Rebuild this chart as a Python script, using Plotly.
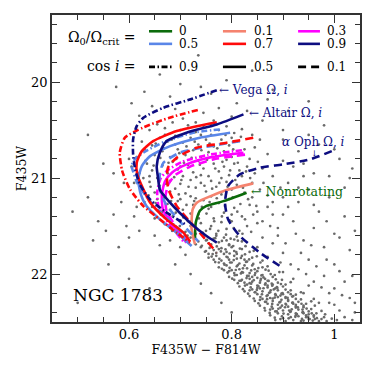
import plotly.graph_objects as go

# ---------------- data ----------------
# observed stars (F435W-F814W, F435W), estimated from the picture
stars = [
 (0.575,20.05),(0.63,20.1),(0.66,19.92),(0.70,20.02),(0.735,19.72),(0.76,20.12),(0.79,19.98),(0.81,20.22),(0.84,19.88),(0.88,20.08),
 (0.91,20.3),(0.95,20.2),(0.62,20.35),(0.69,20.28),(0.72,20.18),(0.745,20.32),(0.775,20.27),(0.80,20.36),(0.83,20.3),(0.86,20.4),
 (0.52,20.55),(0.605,20.22),(0.645,20.25),(0.98,20.45),(0.87,20.18),(0.73,20.42),(0.765,20.4),(0.705,20.38),(0.68,20.15),(0.74,20.05),
 (0.625,20.62),(0.64,20.5),(0.655,20.44),(0.67,20.48),(0.685,20.42),(0.70,20.5),(0.715,20.45),(0.73,20.52),(0.745,20.47),(0.76,20.44),
 (0.775,20.5),(0.79,20.46),(0.805,20.53),(0.82,20.49),(0.84,20.55),(0.855,20.6),(0.63,20.7),(0.645,20.66),(0.66,20.58),(0.675,20.62),
 (0.69,20.56),(0.705,20.63),(0.72,20.58),(0.735,20.65),(0.75,20.6),(0.765,20.67),(0.78,20.6),(0.795,20.66),(0.81,20.62),(0.825,20.7),
 (0.845,20.68),(0.87,20.75),(0.615,20.78),(0.65,20.76),(0.665,20.72),(0.68,20.78),(0.695,20.7),(0.71,20.76),(0.725,20.71),(0.74,20.78),
 (0.755,20.73),(0.77,20.77),(0.785,20.72),(0.80,20.78),(0.815,20.75),(0.835,20.8),(0.67,20.55),(0.74,20.55),(0.80,20.58),(0.69,20.65),
 (0.76,20.55),
 (0.605,20.88),(0.62,20.95),(0.635,20.85),(0.645,20.92),(0.655,21.0),(0.665,20.87),(0.675,20.95),(0.685,20.83),(0.695,20.91),(0.705,20.98),
 (0.715,20.86),(0.725,20.94),(0.735,20.82),(0.745,20.9),(0.755,20.98),(0.765,20.85),(0.775,20.93),(0.785,20.88),(0.795,20.97),(0.805,20.85),
 (0.815,20.92),(0.83,20.88),(0.845,20.95),(0.86,20.9),(0.88,20.98),(0.61,21.05),(0.625,21.12),(0.64,21.04),(0.65,21.15),(0.66,21.08),
 (0.67,21.18),(0.68,21.03),(0.69,21.11),(0.70,21.06),(0.71,21.16),(0.72,21.02),(0.73,21.1),(0.74,21.05),(0.75,21.14),(0.76,21.03),
 (0.77,21.09),(0.78,21.17),(0.79,21.04),(0.80,21.12),(0.81,21.07),(0.825,21.15),(0.84,21.05),(0.855,21.12),(0.87,21.18),(0.895,21.1),
 (0.66,20.96),(0.70,20.88),(0.74,20.97),(0.78,21.0),(0.82,20.98),(0.68,21.14),(0.72,21.19),(0.76,21.19),(0.64,20.98),(0.79,20.81),
 (0.63,21.25),(0.645,21.3),(0.655,21.22),(0.665,21.35),(0.675,21.27),(0.685,21.4),(0.695,21.24),(0.705,21.33),(0.715,21.45),(0.725,21.28),
 (0.735,21.38),(0.745,21.23),(0.755,21.32),(0.765,21.42),(0.775,21.26),(0.785,21.36),(0.795,21.22),(0.805,21.31),(0.82,21.4),(0.835,21.28),
 (0.85,21.35),(0.87,21.3),(0.9,21.38),(0.67,21.48),(0.69,21.52),(0.70,21.44),(0.71,21.56),(0.72,21.5),(0.73,21.58),(0.74,21.47),
 (0.75,21.55),(0.76,21.5),(0.77,21.58),(0.78,21.46),(0.79,21.53),(0.80,21.45),(0.815,21.55),(0.83,21.5),(0.85,21.47),(0.65,21.42),
 (0.68,21.33),(0.72,21.37),(0.76,21.3),(0.80,21.38),(0.84,21.2),(0.73,21.21),(0.70,21.22),
 (0.652,20.64),(0.668,20.69),(0.683,20.6),(0.698,20.74),(0.712,20.67),(0.728,20.62),(0.741,20.71),(0.757,20.64),(0.772,20.69),(0.788,20.55),
 (0.803,20.7),(0.818,20.57),(0.632,20.82),(0.648,20.87),(0.661,20.79),(0.677,20.84),(0.692,20.8),(0.707,20.84),(0.722,20.79),(0.738,20.86),
 (0.752,20.81),(0.768,20.9),(0.782,20.83),(0.797,20.92),(0.812,20.84),(0.828,20.93),(0.851,20.83),(0.628,21.0),(0.642,21.09),(0.658,21.03),
 (0.672,21.06),(0.688,20.99),(0.702,21.02),(0.716,21.09),(0.731,20.99),(0.747,21.08),(0.762,21.11),(0.776,21.05),(0.792,21.09),(0.807,21.02),
 (0.822,21.1),(0.836,21.0),(0.862,21.05),(0.638,21.18),(0.652,21.26),(0.667,21.21),(0.682,21.24),(0.697,21.17),(0.712,21.28),(0.727,21.24),
 (0.742,21.3),(0.757,21.25),(0.771,21.21),(0.787,21.29),(0.802,21.2),(0.817,21.27),(0.832,21.22),(0.848,21.29),(0.662,21.38),(0.676,21.43),
 (0.691,21.36),(0.706,21.41),(0.721,21.45),(0.736,21.42),(0.751,21.37),(0.766,21.45),(0.781,21.4),(0.796,21.44),(0.811,21.35),(0.826,21.43),
 (0.842,21.38),(0.684,21.55),(0.699,21.5),(0.714,21.6),(0.729,21.52),(0.744,21.57),(0.758,21.53),(0.774,21.55),(0.789,21.59),(0.804,21.52),
 (0.821,21.58),(0.838,21.56),
 (0.72,21.62),(0.735,21.66),(0.745,21.61),(0.755,21.68),(0.765,21.63),(0.775,21.67),(0.785,21.62),(0.795,21.69),(0.805,21.64),(0.82,21.66),
 (0.75,21.65),(0.77,21.6),(0.79,21.65),(0.76,21.69),(0.73,21.69),(0.81,21.61),
 (0.74,21.72),(0.75,21.76),(0.76,21.71),(0.77,21.78),(0.78,21.73),(0.79,21.77),(0.80,21.72),(0.81,21.79),(0.82,21.74),(0.835,21.77),
 (0.765,21.75),(0.785,21.79),(0.795,21.7),(0.775,21.74),(0.805,21.76),(0.755,21.79),(0.85,21.72),
 (0.755,21.83),(0.77,21.81),(0.78,21.86),(0.79,21.82),(0.80,21.88),(0.81,21.84),(0.82,21.81),(0.83,21.87),(0.84,21.83),(0.785,21.89),
 (0.795,21.85),(0.805,21.81),(0.815,21.89),(0.775,21.88),(0.825,21.85),(0.86,21.86),(0.765,21.85),
 (0.775,21.93),(0.79,21.91),(0.80,21.96),(0.81,21.92),(0.82,21.98),(0.83,21.94),(0.84,21.91),(0.85,21.97),(0.86,21.93),(0.805,21.99),
 (0.815,21.95),(0.825,21.91),(0.835,21.99),(0.795,21.97),(0.845,21.95),(0.87,21.92),(0.785,21.96),
 (0.795,22.03),(0.81,22.01),(0.82,22.06),(0.83,22.02),(0.84,22.08),(0.85,22.04),(0.86,22.01),(0.87,22.07),(0.88,22.03),(0.825,22.09),
 (0.835,22.05),(0.845,22.01),(0.855,22.09),(0.815,22.07),(0.865,22.05),(0.89,22.09),(0.805,22.06),
 (0.815,22.13),(0.83,22.11),(0.84,22.16),(0.85,22.12),(0.86,22.18),(0.87,22.14),(0.88,22.11),(0.89,22.17),(0.90,22.13),(0.845,22.19),
 (0.855,22.15),(0.865,22.11),(0.875,22.19),(0.835,22.17),(0.885,22.15),(0.91,22.19),(0.825,22.18),
 (0.835,22.23),(0.85,22.21),(0.86,22.26),(0.87,22.22),(0.88,22.28),(0.89,22.24),(0.90,22.21),(0.91,22.27),(0.92,22.23),(0.865,22.29),
 (0.875,22.25),(0.885,22.21),(0.895,22.29),(0.855,22.27),(0.905,22.25),(0.93,22.29),(0.845,22.28),
 (0.855,22.33),(0.87,22.31),(0.88,22.36),(0.89,22.32),(0.90,22.38),(0.91,22.34),(0.92,22.31),(0.93,22.37),(0.94,22.33),(0.885,22.39),
 (0.895,22.35),(0.905,22.31),(0.915,22.39),(0.875,22.37),(0.925,22.35),(0.95,22.39),(0.865,22.38),
 (0.875,22.43),(0.89,22.41),(0.90,22.46),(0.91,22.42),(0.92,22.48),(0.93,22.44),(0.94,22.41),(0.95,22.47),(0.96,22.43),(0.905,22.49),
 (0.915,22.45),(0.925,22.41),(0.935,22.49),(0.895,22.47),(0.945,22.45),(0.97,22.49),(0.885,22.48),
 (0.728,21.635),(0.752,21.645),(0.768,21.626),(0.781,21.655),(0.798,21.631),(0.812,21.652),
 (0.742,21.705),(0.757,21.728),(0.771,21.712),(0.788,21.742),(0.803,21.708),(0.816,21.735),(0.827,21.71),
 (0.748,21.768),(0.763,21.792),(0.779,21.764),(0.796,21.786),(0.809,21.771),(0.826,21.795),(0.843,21.758),
 (0.761,21.818),(0.776,21.842),(0.792,21.826),(0.804,21.855),(0.818,21.832),(0.834,21.848),(0.849,21.815),
 (0.768,21.875),(0.786,21.902),(0.797,21.88),(0.812,21.906),(0.828,21.874),(0.842,21.895),(0.856,21.88),
 (0.781,21.945),(0.796,21.935),(0.808,21.958),(0.822,21.94),(0.838,21.962),(0.852,21.938),(0.866,21.955),
 (0.792,21.985),(0.806,22.012),(0.818,21.994),(0.833,22.02),(0.846,21.99),(0.858,22.015),(0.876,22.0),
 (0.801,22.048),(0.818,22.07),(0.829,22.042),(0.843,22.064),(0.857,22.05),(0.872,22.072),(0.886,22.055),
 (0.812,22.095),(0.826,22.12),(0.838,22.1),(0.852,22.127),(0.866,22.098),(0.879,22.122),(0.896,22.105),
 (0.822,22.158),(0.837,22.14),(0.849,22.166),(0.862,22.148),(0.876,22.17),(0.889,22.145),(0.905,22.162),
 (0.832,22.205),(0.846,22.19),(0.859,22.212),(0.873,22.196),(0.886,22.22),(0.899,22.198),(0.915,22.21),
 (0.843,22.255),(0.856,22.24),(0.869,22.262),(0.884,22.245),(0.897,22.268),(0.909,22.248),(0.925,22.26),
 (0.852,22.305),(0.867,22.29),(0.879,22.312),(0.893,22.296),(0.906,22.318),(0.919,22.298),(0.936,22.31),
 (0.864,22.355),(0.878,22.34),(0.891,22.362),(0.904,22.346),(0.917,22.368),(0.929,22.348),(0.946,22.36),
 (0.874,22.405),(0.888,22.39),(0.901,22.412),(0.914,22.396),(0.927,22.418),(0.939,22.398),(0.956,22.41),
 (0.884,22.455),(0.898,22.44),(0.911,22.462),(0.924,22.446),(0.937,22.468),(0.949,22.448),(0.966,22.46),
 (0.872,21.965),(0.884,22.01),(0.862,22.035),(0.893,21.98),(0.898,22.06),(0.905,22.11),(0.888,22.135),(0.915,22.085),(0.878,22.1),
 (0.915,22.17),(0.925,22.215),(0.905,22.24),(0.935,22.19),(0.897,22.205),(0.918,22.235),
 (0.935,22.265),(0.945,22.31),(0.925,22.335),(0.955,22.285),(0.918,22.3),(0.94,22.345),(0.962,22.33),
 (0.955,22.365),(0.965,22.41),(0.945,22.43),(0.975,22.385),(0.938,22.4),(0.96,22.445),(0.982,22.42),
 (0.975,22.47),(0.985,22.49),(0.958,22.485),(0.995,22.465),(0.952,22.47),
 (0.84,22.03),(0.856,22.068),(0.87,22.12),(0.882,22.16),(0.895,22.225),(0.91,22.28),(0.925,22.32),(0.938,22.37),(0.95,22.42),(0.962,22.47),
 (0.822,21.985),(0.835,22.095),(0.85,22.145),(0.868,22.23),(0.88,22.255),(0.898,22.33),(0.912,22.38),(0.925,22.43),(0.94,22.485),
 (0.9,20.6),(0.93,20.72),(0.97,20.65),(1.01,20.8),(0.92,20.88),(0.96,20.95),(1.03,21.0),(0.91,21.05),(0.95,21.12),(0.99,21.2),
 (0.93,21.25),(0.97,21.35),(1.02,21.4),(0.92,21.45),(0.96,21.52),(1.0,21.58),(0.89,21.6),(0.94,21.65),(0.98,21.72),(1.03,21.75),
 (0.9,21.78),(0.95,21.85),(1.0,21.9),(0.93,21.95),(0.98,22.02),(1.02,22.08),(0.95,22.12),(0.99,22.2),(1.03,22.25),(0.97,22.3),
 (1.01,22.38),(0.98,22.45),(1.04,22.4),(0.88,21.68),(0.87,21.82),(0.9,21.98),(0.92,22.05),(0.94,22.2),(0.96,22.26),(1.0,22.32),
 (0.86,21.62),(0.875,21.5),(0.91,21.3),(0.88,21.25),(1.04,21.55),(1.02,21.1),(0.99,20.98),(0.94,20.85),
 (0.86,21.45),(0.89,21.52),(0.905,21.68),(0.925,21.58),(0.935,21.78),(0.955,21.7),(0.965,21.92),(0.985,21.85),(1.01,21.97),(1.035,22.02),
 (0.945,22.0),(0.96,22.08),(0.975,22.14),(1.0,22.15),(1.015,22.22),(1.04,22.3),(0.99,22.3),(1.02,22.45),(1.035,22.48),(1.005,22.48),
 (0.88,21.38),(0.9,21.2),(0.93,21.1),(0.96,21.28),(0.985,21.45),(1.01,21.62),(0.895,21.88),(0.915,21.9),
 (0.9,20.5),(0.95,20.55),(1.0,20.7),(1.035,20.9),(0.94,20.98),(0.9,20.82),
 (0.49,21.35),(0.52,21.2),(0.54,21.45),(0.555,21.55),(0.57,21.38),(0.585,21.25),(0.595,21.5),(0.6,21.62),(0.61,21.4),(0.58,21.72),
 (0.56,21.9),(0.6,22.05),(0.64,22.15),(0.5,22.3),(0.62,21.55),(0.615,21.3),(0.59,21.05),(0.57,20.95),(0.6,20.8),(0.55,20.85),
 (0.53,21.65),(0.65,21.6),(0.66,21.7),(0.68,21.65),(0.7,21.72),(0.71,21.8),(0.69,21.9),(0.72,22.0),(0.74,22.1),(0.76,22.2),
 (0.78,22.3),(0.8,22.4),
]
star_color = [s[0] for s in stars]
star_mag = [s[1] for s in stars]

# model isochrones: (Omega0/Omega_crit, cos i) -> (colour list, magnitude list)
iso_w00_c05_x = [0.829, 0.784, 0.751, 0.738, 0.730, 0.7285]
iso_w00_c05_y = [21.152, 21.24, 21.29, 21.34, 21.465, 21.64]

iso_w01_c05_x = [0.842, 0.790, 0.732, 0.724, 0.722, 0.7285]
iso_w01_c05_y = [21.055, 21.125, 21.256, 21.326, 21.534, 21.69]

iso_w03_c05_x = [0.823, 0.758, 0.712, 0.684, 0.670, 0.664, 0.666, 0.684, 0.712]
iso_w03_c05_y = [20.735, 20.784, 20.857, 20.941, 21.035, 21.17, 21.326, 21.482, 21.673]
iso_w03_c09_x = [0.820, 0.752, 0.704, 0.676, 0.661, 0.655, 0.658, 0.677, 0.706]
iso_w03_c09_y = [20.71, 20.76, 20.83, 20.915, 21.01, 21.15, 21.31, 21.47, 21.66]
iso_w03_c01_x = [0.826, 0.764, 0.719, 0.691, 0.677, 0.671, 0.673, 0.690, 0.717]
iso_w03_c01_y = [20.755, 20.805, 20.88, 20.965, 21.06, 21.19, 21.34, 21.495, 21.68]

iso_w05_c09_x = [0.777, 0.725, 0.670, 0.631, 0.612, 0.605, 0.608, 0.616, 0.635, 0.660, 0.690, 0.710]
iso_w05_c09_y = [20.493, 20.527, 20.62, 20.724, 20.80, 20.874, 20.93, 21.05, 21.2, 21.35, 21.5, 21.62]
iso_w05_c05_x = [0.797, 0.738, 0.680, 0.641, 0.625, 0.618, 0.623, 0.634, 0.660, 0.693, 0.722]
iso_w05_c05_y = [20.527, 20.579, 20.667, 20.771, 20.875, 21.014, 21.17, 21.292, 21.43, 21.569, 21.708]
iso_w05_c01_x = [0.816, 0.758, 0.699, 0.667, 0.660, 0.660, 0.672, 0.699, 0.735]
iso_w05_c01_y = [20.615, 20.667, 20.735, 20.84, 20.961, 21.118, 21.274, 21.451, 21.66]

iso_w07_c09_x = [0.734, 0.679, 0.627, 0.592, 0.582, 0.586, 0.589, 0.602, 0.628, 0.660, 0.693, 0.719]
iso_w07_c09_y = [20.29, 20.37, 20.474, 20.578, 20.734, 20.909, 20.961, 21.118, 21.292, 21.43, 21.569, 21.673]
iso_w07_c05_x = [0.771, 0.693, 0.647, 0.625, 0.615, 0.616, 0.628, 0.641, 0.673, 0.706, 0.719]
iso_w07_c05_y = [20.418, 20.51, 20.615, 20.719, 20.84, 20.961, 21.118, 21.253, 21.43, 21.569, 21.66]
iso_w07_c01_x = [0.842, 0.790, 0.732, 0.693, 0.676, 0.674, 0.677, 0.693, 0.732, 0.771]
iso_w07_c01_y = [20.579, 20.631, 20.683, 20.787, 20.889, 21.014, 21.118, 21.292, 21.534, 21.777]

iso_w09_c09_x = [0.771, 0.719, 0.667, 0.628, 0.615, 0.608, 0.608, 0.612, 0.621, 0.641, 0.670, 0.713]
iso_w09_c09_y = [20.084, 20.18, 20.267, 20.371, 20.458, 20.597, 20.753, 20.909, 21.066, 21.222, 21.347, 21.493]
iso_w09_c05_x = [0.823, 0.771, 0.712, 0.673, 0.660, 0.654, 0.657, 0.660, 0.680, 0.719, 0.751, 0.771]
iso_w09_c05_y = [20.336, 20.441, 20.527, 20.615, 20.735, 20.875, 21.014, 21.118, 21.256, 21.465, 21.604, 21.673]
iso_w09_c01_x = [0.995, 0.952, 0.900, 0.855, 0.816, 0.793, 0.787, 0.793, 0.816, 0.855, 0.894]
iso_w09_c01_y = [20.719, 20.805, 20.857, 20.892, 20.961, 21.083, 21.256, 21.43, 21.604, 21.777, 21.917]

omega_labels = ["0", "0.1", "0.3", "0.5", "0.7", "0.9"]
cosi_labels = ["0.9", "0.5", "0.1"]

# ---------------- styles ----------------
C_GREEN = "#0b6b0b"
C_SALMON = "#f5836f"
C_MAGENTA = "#ff00ff"
C_BLUE = "#5a86e8"
C_RED = "#ff0a0a"
C_NAVY = "#0d0d80"
DASH = {"0.9": "6px,2.5px,1.5px,2.5px", "0.5": "solid", "0.1": "8px,5px"}
FONT = "DejaVu Serif"

curves = [
    (iso_w00_c05_x, iso_w00_c05_y, C_GREEN, "0.5"),
    (iso_w01_c05_x, iso_w01_c05_y, C_SALMON, "0.5"),
    (iso_w03_c09_x, iso_w03_c09_y, C_MAGENTA, "0.9"),
    (iso_w03_c05_x, iso_w03_c05_y, C_MAGENTA, "0.5"),
    (iso_w03_c01_x, iso_w03_c01_y, C_MAGENTA, "0.1"),
    (iso_w05_c09_x, iso_w05_c09_y, C_BLUE, "0.9"),
    (iso_w05_c05_x, iso_w05_c05_y, C_BLUE, "0.5"),
    (iso_w05_c01_x, iso_w05_c01_y, C_BLUE, "0.1"),
    (iso_w07_c09_x, iso_w07_c09_y, C_RED, "0.9"),
    (iso_w07_c05_x, iso_w07_c05_y, C_RED, "0.5"),
    (iso_w07_c01_x, iso_w07_c01_y, C_RED, "0.1"),
    (iso_w09_c09_x, iso_w09_c09_y, C_NAVY, "0.9"),
    (iso_w09_c05_x, iso_w09_c05_y, C_NAVY, "0.5"),
    (iso_w09_c01_x, iso_w09_c01_y, C_NAVY, "0.1"),
]

fig = go.Figure()
fig.add_trace(go.Scatter(x=star_color, y=star_mag, mode="markers",
                         marker=dict(color="#6a6a6a", size=2.7, line=dict(width=0)),
                         showlegend=False, hoverinfo="skip"))
for xs, ys, col, ci in curves:
    fig.add_trace(go.Scatter(x=xs, y=ys, mode="lines",
                             line=dict(color=col, width=2.6, dash=DASH[ci], shape="spline", smoothing=0.6),
                             showlegend=False, hoverinfo="skip"))

# ---------------- legend (keys drawn in paper coords) ----------------
shapes = []
annotations = []
cols_x = [(0.315, 0.39), (0.555, 0.63), (0.799, 0.87)]
label_x = [0.405, 0.648, 0.886]
row_y = [0.947, 0.906]
omega_colors = [C_GREEN, C_SALMON, C_MAGENTA, C_BLUE, C_RED, C_NAVY]
for k, (lab, colr) in enumerate(zip(omega_labels, omega_colors)):
    r, c = divmod(k, 3)
    shapes.append(dict(type="line", xref="paper", yref="paper",
                       x0=cols_x[c][0], x1=cols_x[c][1], y0=row_y[r], y1=row_y[r],
                       line=dict(color=colr, width=2.6)))
    annotations.append(dict(xref="paper", yref="paper", x=label_x[c], y=row_y[r], text=lab,
                            showarrow=False, xanchor="left", yanchor="middle",
                            font=dict(family=FONT, size=12, color="black")))
for c, lab in enumerate(cosi_labels):
    shapes.append(dict(type="line", xref="paper", yref="paper",
                       x0=cols_x[c][0], x1=cols_x[c][1], y0=0.831, y1=0.831,
                       line=dict(color="black", width=2.6, dash=DASH[lab])))
    annotations.append(dict(xref="paper", yref="paper", x=label_x[c], y=0.831, text=lab,
                            showarrow=False, xanchor="left", yanchor="middle",
                            font=dict(family=FONT, size=12, color="black")))
annotations.append(dict(xref="paper", yref="paper", x=0.278, y=0.926,
                        text="Ω<sub>0</sub>/Ω<sub>crit</sub> =", showarrow=False,
                        xanchor="right", yanchor="middle",
                        font=dict(family=FONT, size=14, color="black")))
annotations.append(dict(xref="paper", yref="paper", x=0.278, y=0.833,
                        text="cos <i>i</i> =", showarrow=False,
                        xanchor="right", yanchor="middle",
                        font=dict(family=FONT, size=14, color="black")))

# ---------------- labels on the plot ----------------
annotations += [
    dict(x=0.771, y=20.08, text="← Vega Ω, <i>i</i>", xanchor="left", yanchor="middle",
         showarrow=False, font=dict(family=FONT, size=12, color=C_NAVY)),
    dict(x=0.829, y=20.32, text="← Altair Ω, <i>i</i>", xanchor="left", yanchor="middle",
         showarrow=False, font=dict(family=FONT, size=12, color=C_NAVY)),
    dict(x=0.894, y=20.625, text="<i>α</i> Oph Ω, <i>i</i>", xanchor="left", yanchor="middle",
         showarrow=False, font=dict(family=FONT, size=12, color=C_NAVY)),
    dict(x=0.962, y=20.745, text="↓", xanchor="center", yanchor="middle",
         showarrow=False, font=dict(family=FONT, size=8, color=C_NAVY)),
    dict(x=0.834, y=21.14, text="← Nonrotating", xanchor="left", yanchor="middle",
         showarrow=False, font=dict(family=FONT, size=12.5, color=C_GREEN)),
    dict(xref="paper", yref="paper", x=0.062, y=0.088, text="NGC 1783", xanchor="left",
         yanchor="middle", showarrow=False, font=dict(family=FONT, size=17, color="black")),
]

axis_common = dict(showgrid=False, zeroline=False, ticks="inside", ticklen=8, tickwidth=1,
                   tickcolor="#333", showline=True, linecolor="#333", linewidth=1.5,
                   mirror="allticks", tickfont=dict(family=FONT, size=13, color="black"))

fig.update_layout(
    width=374, height=374,
    margin=dict(l=52, r=14, t=15, b=52),
    paper_bgcolor="white", plot_bgcolor="white",
    shapes=shapes, annotations=annotations,
    xaxis=dict(range=[0.45, 1.05], tickvals=[0.6, 0.8, 1.0], ticktext=["0.6", "0.8", "1"],
               minor=dict(dtick=0.05, tick0=0.45, ticks="inside", ticklen=5, tickcolor="#333"),
               title=dict(text="F435W − F814W", font=dict(family=FONT, size=12.5, color="black"),
                          standoff=4),
               **axis_common),
    yaxis=dict(range=[22.5, 19.3], tickvals=[20, 21, 22],
               minor=dict(dtick=0.2, tick0=19.4, ticks="inside", ticklen=5, tickcolor="#333"),
               title=dict(text="F435W", font=dict(family=FONT, size=12.5, color="black"),
                          standoff=2),
               **axis_common),
)

fig.write_html("out.html", config={"displayModeBar": False},
               post_script="document.body.style.margin='0';")
